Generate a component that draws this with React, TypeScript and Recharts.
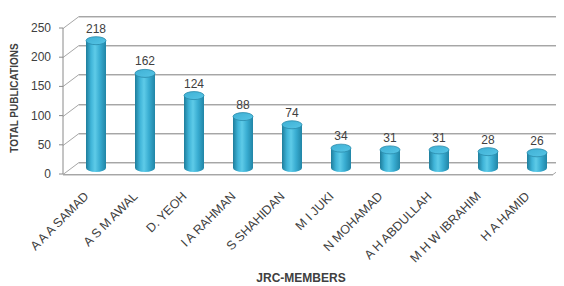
import { Bar, BarChart, LabelList, XAxis, YAxis } from "recharts";

const members = [
  "A A A SAMAD",
  "A S M AWAL",
  "D. YEOH",
  "I A RAHMAN",
  "S SHAHIDAN",
  "M I JUKI",
  "N MOHAMAD",
  "A H ABDULLAH",
  "M H W IBRAHIM",
  "H A HAMID",
];
const publications = [218, 162, 124, 88, 74, 34, 31, 31, 28, 26];
const yTicks = [0, 50, 100, 150, 200, 250];

const data = members.map((name, i) => ({ name, value: publications[i] }));

const WIDTH = 564;
const HEIGHT = 286;
const MARGIN = { top: 22, right: 3, left: 0, bottom: 0 };
const YAXIS_W = 71;
const PLOT_LEFT = MARGIN.left + YAXIS_W;
const PLOT_RIGHT = WIDTH - MARGIN.right;

// half of the 3D depth: front plane = (-DX, +DY), back wall = (+DX, -DY)
const DX = 8;
const DY = 6;
const TEXT = "#404040";
const WALL = "#a6a6a6";
const WALL_SHADE = "#d6d6d6";
const AXIS = "#8a8a8a";
const FONT = "'Liberation Sans', Arial, sans-serif";

// crisp 1px lines
const snap = (v: number) => Math.round(v) + 0.5;

// back wall, left wall and floor, placed with the bar scale (zero line + px per unit)
function Walls({ zeroY, ppu }: { zeroY: number; ppu: number }) {
  const x1 = PLOT_LEFT;
  const x2 = PLOT_RIGHT;
  return (
    <g>
      {yTicks.map((v) => {
        const y = zeroY - v * ppu;
        const yb = snap(y - DY);
        const yf = snap(y + DY);
        return (
          <g key={v}>
            <line x1={x1 + DX} y1={yb + 1} x2={x2 + DX} y2={yb + 1} stroke={WALL_SHADE} strokeWidth={1} />
            <line x1={x1 + DX} y1={yb} x2={x2 + DX} y2={yb} stroke={WALL} strokeWidth={1} />
            <line x1={x1 - DX} y1={yf} x2={x1 + DX} y2={yb} stroke={WALL} strokeWidth={1} />
            {v === 0 && (
              <g>
                <line x1={x1 - DX} y1={yf} x2={x2 - DX} y2={yf} stroke={WALL} strokeWidth={1} />
                <line x1={x1 - DX} y1={yf + 1} x2={x2 - DX} y2={yf + 1} stroke={WALL_SHADE} strokeWidth={1} />
                <line x1={x2 - DX} y1={yf} x2={x2 + DX} y2={yb} stroke={WALL} strokeWidth={1} />
              </g>
            )}
          </g>
        );
      })}
    </g>
  );
}

function Cylinder(props: any) {
  const { x, y, width, height, index, payload } = props;
  if (!height || height <= 0) return null;
  const rx = width / 2;
  const ry = 4;
  const cx = x + rx;
  const body = `M ${x} ${y} L ${x} ${y + height} A ${rx} ${ry} 0 0 0 ${x + width} ${y + height} L ${x + width} ${y} Z`;
  const walls = index === 0 && payload?.value ? <Walls zeroY={y + height} ppu={height / payload.value} /> : null;
  return (
    <g>
      {walls}
      <path d={body} fill="url(#cylBody)" />
      <ellipse cx={cx} cy={y} rx={rx} ry={ry} fill="url(#cylTop)" stroke="#2a8aab" strokeWidth={0.8} />
    </g>
  );
}

function YTick(props: any) {
  const { x, y, payload } = props;
  return (
    <text x={x - 12} y={y + DY} textAnchor="end" dominantBaseline="central" fill={TEXT} fontSize={12} fontFamily={FONT}>
      {payload.value}
    </text>
  );
}

function XTick(props: any) {
  const { x, y, payload } = props;
  return (
    <g transform={`translate(${x - 6},${y + 21})`}>
      <text transform="rotate(-45)" textAnchor="end" fill={TEXT} fontSize={12.5} fontFamily={FONT}>
        {payload.value}
      </text>
    </g>
  );
}

export default function App() {
  return (
    <BarChart
      width={WIDTH}
      height={HEIGHT}
      data={data}
      margin={MARGIN}
      barSize={20}
      style={{ marginLeft: -8, marginTop: -8 }}
    >
      <defs>
        <linearGradient id="cylBody" x1="0" y1="0" x2="1" y2="0">
          <stop offset="0%" stopColor="#1e7d9b" />
          <stop offset="25%" stopColor="#3fb4d8" />
          <stop offset="45%" stopColor="#5ecbe8" />
          <stop offset="70%" stopColor="#38acd1" />
          <stop offset="100%" stopColor="#2185a6" />
        </linearGradient>
        <linearGradient id="cylTop" x1="0" y1="0" x2="1" y2="1">
          <stop offset="0%" stopColor="#3fb0d4" />
          <stop offset="100%" stopColor="#56c5e6" />
        </linearGradient>
      </defs>
      <XAxis
        dataKey="name"
        height={118}
        axisLine={false}
        tickLine={false}
        interval={0}
        tick={<XTick />}
        label={{
          content: (p: any) => {
            const vb = p.viewBox;
            return (
              <text
                x={vb.x + vb.width / 2 - 15}
                y={vb.y + vb.height - 4}
                textAnchor="middle"
                fill={TEXT}
                fontSize={12}
                fontWeight="bold"
                fontFamily={FONT}
              >
                JRC-MEMBERS
              </text>
            );
          },
        }}
      />
      <YAxis
        width={YAXIS_W}
        domain={[0, 250]}
        ticks={yTicks}
        interval={0}
        axisLine={{ stroke: AXIS, transform: `translate(${-DX},${DY})` }}
        tickLine={{ stroke: AXIS, transform: `translate(${-DX},${DY})` }}
        tickSize={4}
        tickMargin={4}
        tick={<YTick />}
        label={{
          content: (p: any) => {
            const vb = p.viewBox;
            const cy = vb.y + vb.height / 2 + 3;
            return (
              <text
                x={14}
                y={cy}
                transform={`rotate(-90, 14, ${cy})`}
                textAnchor="middle"
                dominantBaseline="central"
                fill={TEXT}
                fontSize={10}
                fontWeight="bold"
                fontFamily={FONT}
              >
                TOTAL PUBLICATIONS
              </text>
            );
          },
        }}
      />
      <Bar dataKey="value" shape={<Cylinder />} isAnimationActive={false}>
        <LabelList dataKey="value" position="top" offset={8} fill={TEXT} fontSize={12} fontFamily={FONT} />
      </Bar>
    </BarChart>
  );
}
